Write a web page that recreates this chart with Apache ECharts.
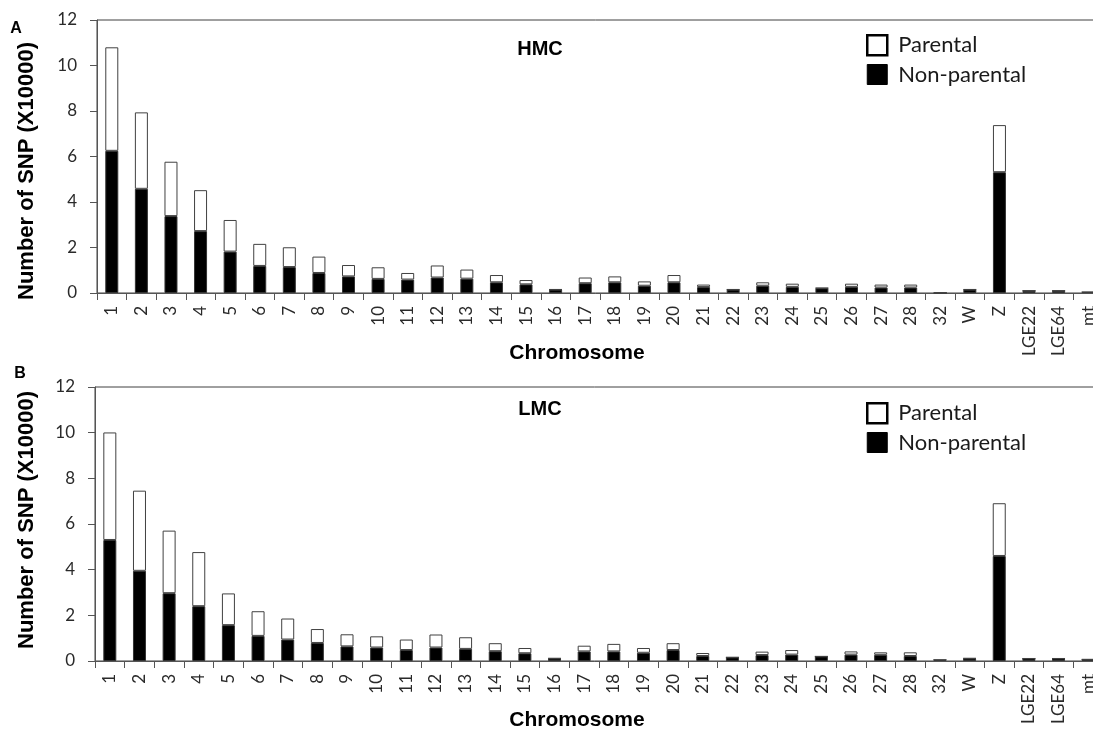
<!DOCTYPE html>
<html>
<head>
<meta charset="utf-8">
<script src="https://cdn.jsdelivr.net/npm/echarts@6/dist/echarts.min.js"></script>
<style>
html,body{margin:0;padding:0;background:#fff;}
#chart{width:1093px;height:736px;}
</style>
</head>
<body>
<div id="chart"></div>
<script>
const categories = ['1','2','3','4','5','6','7','8','9','10','11','12','13','14','15','16','17','18','19','20','21','22','23','24','25','26','27','28','32','W','Z','LGE22','LGE64','mt'];
const yTicks = [0, 2, 4, 6, 8, 10, 12];
const seriesNames = ['Parental', 'Non-parental'];
const panelTitles = ['HMC', 'LMC'];
const panelLetters = ['A', 'B'];
const yAxisTitle = 'Number of SNP (X10000)';
const xAxisTitle = 'Chromosome';

// HMC (panel A)
const hmcNonParental = [6.25,4.58,3.38,2.72,1.82,1.19,1.14,0.88,0.73,0.62,0.59,0.68,0.63,0.47,0.38,0.15,0.43,0.47,0.32,0.47,0.26,0.15,0.32,0.27,0.21,0.27,0.24,0.24,0,0.15,5.31,0.10,0.10,0.04];
const hmcParental    = [4.55,3.36,2.39,1.80,1.39,0.97,0.87,0.72,0.50,0.51,0.29,0.53,0.40,0.32,0.19,0.01,0.25,0.26,0.19,0.32,0.11,0.01,0.15,0.14,0.01,0.14,0.13,0.13,0,0.01,2.07,0,0,0];

// LMC (panel B)
const lmcNonParental = [5.30,3.95,2.97,2.40,1.57,1.10,0.94,0.79,0.64,0.59,0.48,0.59,0.53,0.43,0.34,0.11,0.42,0.42,0.36,0.48,0.22,0.16,0.26,0.28,0.20,0.28,0.27,0.22,0.05,0.11,4.60,0.11,0.11,0.07];
const lmcParental    = [4.71,3.51,2.74,2.37,1.39,1.08,0.92,0.61,0.53,0.49,0.46,0.57,0.51,0.35,0.23,0.01,0.25,0.33,0.21,0.30,0.13,0,0.15,0.20,0,0.14,0.11,0.16,0,0.01,2.31,0,0,0];

const chart = echarts.init(document.getElementById('chart'), null, {renderer: 'canvas'});

const axisColor = '#555';
const labelColor = '#2a2a2a';
const grids = [
  {left: 97, top: 20, width: 1006, height: 273},
  {left: 95, top: 387, width: 1008, height: 274}
];

function xAxis(i) {
  return {
    type: 'category', gridIndex: i, data: categories,
    axisLine: {show: true, lineStyle: {color: axisColor, width: 1}},
    axisTick: {show: true, length: 7, lineStyle: {color: axisColor}},
    axisLabel: {rotate: 90, interval: 0, margin: 13, fontFamily: 'Lato', fontSize: 17, color: labelColor},
    splitLine: {show: false}
  };
}
function yAxis(i) {
  return {
    type: 'value', gridIndex: i, min: yTicks[0], max: yTicks[yTicks.length - 1], interval: 2,
    axisLine: {show: true, lineStyle: {color: axisColor, width: 1}},
    axisTick: {show: true, length: 7, lineStyle: {color: axisColor}},
    axisLabel: {margin: 20, fontFamily: 'Lato', fontSize: 17, color: labelColor},
    splitLine: {show: false}
  };
}
function bars(i, non, par) {
  return [
    {name: seriesNames[1], type: 'bar', xAxisIndex: i, yAxisIndex: i, stack: 's' + i, data: non, barWidth: 13,
     itemStyle: {color: '#000', borderColor: '#333', borderWidth: 1}},
    {name: seriesNames[0], type: 'bar', xAxisIndex: i, yAxisIndex: i, stack: 's' + i, data: par, barWidth: 13,
     itemStyle: {color: '#fff', borderColor: '#404040', borderWidth: 1}}
  ];
}
function legend(top) {
  return {
    orient: 'vertical', left: 861, top: top, itemWidth: 20, itemHeight: 20, itemGap: 7,
    icon: 'rect',
    textStyle: {fontFamily: 'Lato', fontSize: 22, color: '#1a1a1a', padding: [0, 0, 0, 6]},
    data: [
      {name: seriesNames[0], itemStyle: {color: '#fff', borderColor: '#000', borderWidth: 2.5}},
      {name: seriesNames[1], itemStyle: {color: '#000', borderColor: '#000', borderWidth: 1}}
    ]
  };
}
const boldText = (x, y, text, size, rot) => ({
  type: 'text', x: x, y: y, rotation: rot || 0,
  style: {text: text, font: 'bold ' + size + 'px "Liberation Sans", Arial, sans-serif', fill: '#000', align: 'center', verticalAlign: 'middle'}
});

chart.setOption({
  backgroundColor: '#fff',
  animation: false,
  grid: grids.map(g => Object.assign({show: true, borderColor: '#404040', borderWidth: 1, backgroundColor: 'transparent', containLabel: false, outerBoundsMode: 'none'}, g)),
  xAxis: [xAxis(0), xAxis(1)],
  yAxis: [yAxis(0), yAxis(1)],
  legend: [legend(29), legend(397)],
  series: [].concat(bars(0, hmcNonParental, hmcParental), bars(1, lmcNonParental, lmcParental)),
  graphic: [
    boldText(16, 29, panelLetters[0], 16),
    boldText(20, 374, panelLetters[1], 16),
    boldText(540, 49, panelTitles[0], 20),
    boldText(540, 409, panelTitles[1], 20),
    boldText(27, 171, yAxisTitle, 22, Math.PI / 2),
    boldText(27, 520, yAxisTitle, 22, Math.PI / 2),
    boldText(577, 353, xAxisTitle, 21),
    boldText(577, 720, xAxisTitle, 21)
  ]
});
</script>
</body>
</html>
